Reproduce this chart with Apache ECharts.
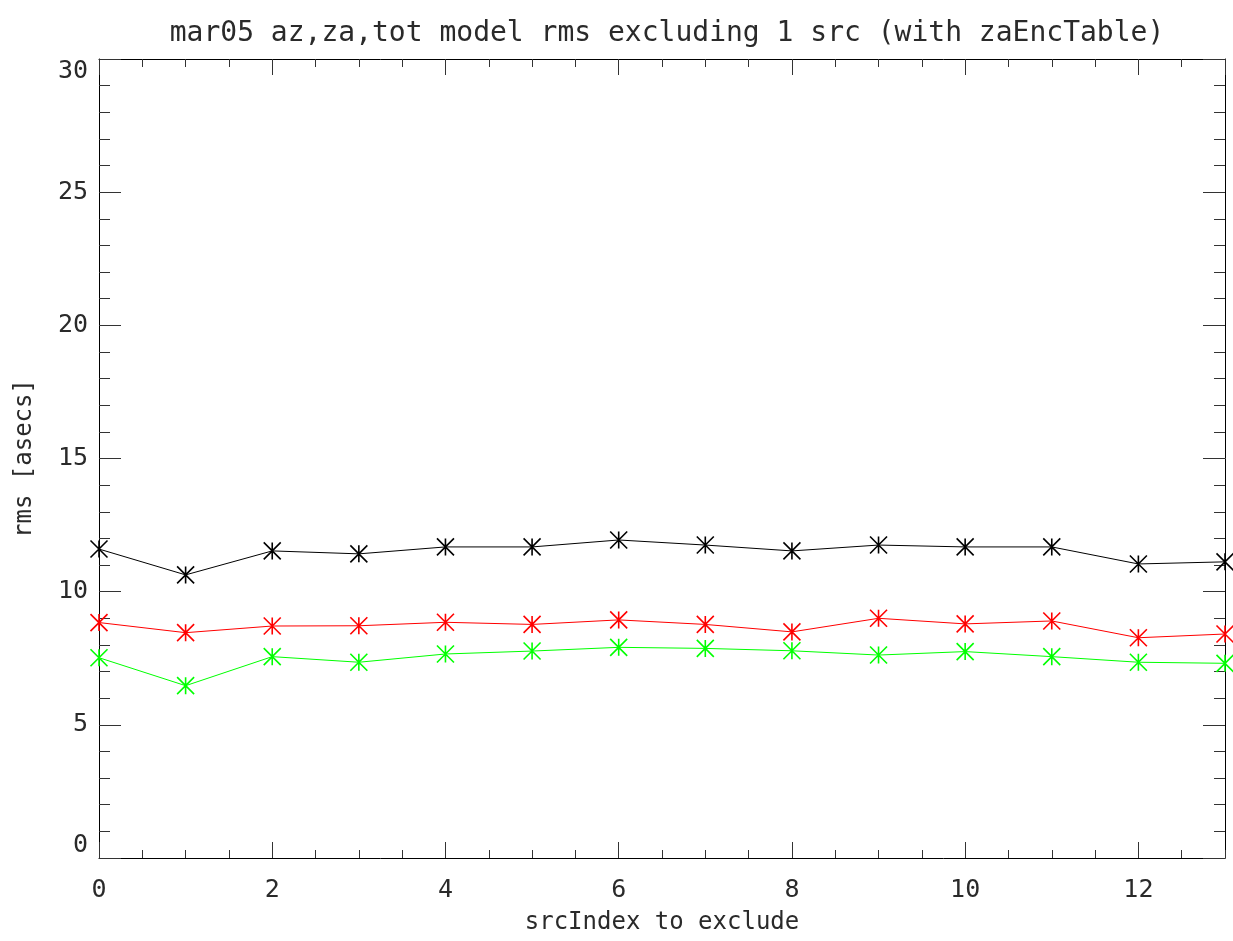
<!DOCTYPE html>
<html>
<head>
<meta charset="utf-8">
<script src="https://cdn.jsdelivr.net/npm/echarts@6/dist/echarts.min.js"></script>
<style>html,body{margin:0;padding:0;background:#fff;overflow:hidden}#c{width:1233px;height:941px}</style>
</head>
<body>
<div id="c"></div>
<script>
const srcIndex = [0,1,2,3,4,5,6,7,8,9,10,11,12,13];
const totRms = [11.60,10.63,11.53,11.42,11.68,11.68,11.94,11.75,11.53,11.75,11.68,11.68,11.04,11.12];
const azRms  = [8.84,8.46,8.71,8.72,8.85,8.77,8.94,8.77,8.49,9.00,8.79,8.90,8.27,8.41];
const zaRms  = [7.52,6.47,7.56,7.35,7.66,7.77,7.91,7.87,7.78,7.62,7.75,7.56,7.35,7.31];
const titleText = 'mar05 az,za,tot model rms excluding 1 src (with zaEncTable)';
const xName = 'srcIndex to exclude';
const yName = 'rms [asecs]';

const FONT = 'DejaVu Sans Mono';
const TXT = '#2a2a2a';
const star = 'path://M0,-1L0,1M-1,-1L1,1M-1,1L1,-1';

function mk(vals, color) {
  return {
    type: 'line',
    data: srcIndex.map((x, i) => [x, vals[i]]),
    xAxisIndex: 0, yAxisIndex: 0,
    symbol: star, symbolSize: 17, showAllSymbol: true,
    lineStyle: { color: color, width: 1 },
    itemStyle: { color: color, borderColor: color, borderWidth: 1.6 },
    emphasis: { disabled: true },
    animation: false
  };
}

const chart = echarts.init(document.getElementById('c'));
chart.setOption({
  backgroundColor: '#fff',
  animation: false,
  title: {
    text: titleText, left: 662, top: 15, textAlign: 'center',
    textStyle: { fontFamily: FONT, fontSize: 28, fontWeight: 'normal', color: TXT }
  },
  grid: { left: 99, right: 8, top: 59, bottom: 83, containLabel: false, outerBoundsMode: 'none' },
  xAxis: [
    { type: 'value', position: 'bottom', min: 0, max: 13, interval: 2,
      name: xName, nameLocation: 'middle', nameGap: 53,
      nameTextStyle: { fontFamily: FONT, fontSize: 24, color: TXT },
      axisLine: { show: true, onZero: false, lineStyle: { color: '#000', width: 1 } },
      axisTick: { show: true, inside: true, length: 16, lineStyle: { color: '#333' } },
      axisLabel: { fontFamily: FONT, fontSize: 25, color: TXT, margin: 20, showMaxLabel: false },
      splitLine: { show: false } },
    { type: 'value', position: 'bottom', min: 0, max: 13, interval: 0.5,
      axisLine: { show: false, onZero: false },
      axisTick: { show: true, inside: true, length: 8, lineStyle: { color: '#333' } },
      axisLabel: { show: false }, splitLine: { show: false } },
    { type: 'value', position: 'top', min: 0, max: 13, interval: 2,
      axisLine: { show: true, onZero: false, lineStyle: { color: '#000', width: 1 } },
      axisTick: { show: true, inside: true, length: 16, lineStyle: { color: '#333' } },
      axisLabel: { show: false }, splitLine: { show: false } },
    { type: 'value', position: 'top', min: 0, max: 13, interval: 0.5,
      axisLine: { show: false, onZero: false },
      axisTick: { show: true, inside: true, length: 8, lineStyle: { color: '#333' } },
      axisLabel: { show: false }, splitLine: { show: false } }
  ],
  yAxis: [
    { type: 'value', position: 'left', min: 0, max: 30, interval: 5,
      name: yName, nameLocation: 'middle', nameGap: 62,
      nameTextStyle: { fontFamily: FONT, fontSize: 24, color: TXT },
      axisLine: { show: true, onZero: false, lineStyle: { color: '#000', width: 1 } },
      axisTick: { show: true, inside: true, length: 22, lineStyle: { color: '#333' } },
      minorTick: { show: true, splitNumber: 5, length: 11, lineStyle: { color: '#333' } },
      axisLabel: { fontFamily: FONT, fontSize: 25, color: TXT, margin: 11,
                   verticalAlignMinLabel: 'bottom', verticalAlignMaxLabel: 'top' },
      splitLine: { show: false } },
    { type: 'value', position: 'right', min: 0, max: 30, interval: 5,
      axisLine: { show: true, onZero: false, lineStyle: { color: '#000', width: 1 } },
      axisTick: { show: true, inside: true, length: 22, lineStyle: { color: '#333' } },
      minorTick: { show: true, splitNumber: 5, length: 11, lineStyle: { color: '#333' } },
      axisLabel: { show: false }, splitLine: { show: false } }
  ],
  series: [ mk(totRms, '#000000'), mk(azRms, '#ff0000'), mk(zaRms, '#00ff00') ]
});
</script>
</body>
</html>
